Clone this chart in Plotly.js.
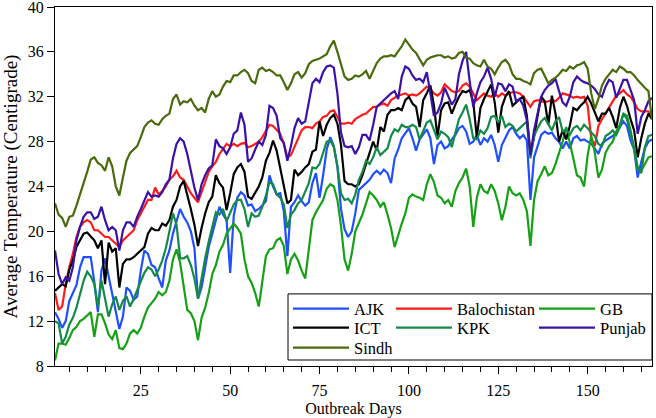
<!DOCTYPE html>
<html>
<head>
<meta charset="utf-8">
<script src="https://cdn.plot.ly/plotly-3.0.1.min.js"></script>
<style>html,body{margin:0;padding:0;background:#fff;}#chart{width:656px;height:418px;}</style>
</head>
<body>
<div id="chart"></div>
<script>
// Outbreak day index 1..168
const days = Array.from({length: 168}, (_, i) => i + 1);

const seriesNames = ["AJK", "Balochistan", "GB", "ICT", "KPK", "Punjab", "Sindh"];

const ajk = [12.8,12.2,11.4,12.0,13.8,14.5,15.2,16.8,17.7,17.7,17.7,15.5,12.8,16.5,17.6,16.0,14.5,13.0,11.3,12.4,15.0,14.7,13.9,14.2,16.5,18.3,18.0,17.0,
16.8,15.8,15.0,17.4,18.3,19.8,21.0,22.0,21.3,20.8,20.0,18.5,14.0,15.0,16.8,18.6,19.8,21.0,22.2,21.5,21.0,16.3,21.4,23.0,23.5,23.2,22.3,
22.4,21.8,22.0,22.3,22.7,25.0,24.0,23.3,23.4,21.8,17.8,22.2,22.6,23.2,22.7,22.3,22.6,24.3,25.2,23.0,25.0,27.3,28.4,27.6,25.8,22.0,20.2,19.5,
20.0,21.6,23.7,24.0,24.3,24.6,25.1,25.4,25.1,25.5,25.2,24.3,26.5,27.3,28.3,28.8,29.2,28.3,27.2,28.2,28.7,29.1,28.3,26.0,27.7,28.0,27.4,27.6,
28.2,28.6,29.2,29.4,28.9,27.8,28.0,28.6,27.7,28.3,28.0,28.6,27.7,26.2,27.7,28.4,29.0,29.3,28.7,28.3,28.6,28.1,22.8,26.6,27.7,28.6,28.9,28.7,
28.8,28.3,28.0,27.4,28.0,27.4,28.3,28.5,28.1,28.2,28.0,27.8,27.4,26.9,27.8,28.1,28.3,28.5,28.8,29.3,29.8,29.4,28.1,27.3,24.8,26.2,27.4,28.0,28.2];

const balochistan = [14.5,13.0,13.3,15.3,16.8,18.0,19.5,20.4,20.8,21.0,20.8,20.1,20.1,19.8,19.5,19.5,19.2,18.9,18.6,19.2,19.5,19.8,20.1,21.0,21.6,22.2,22.8,22.8,
23.9,23.3,23.6,24.0,24.6,24.9,25.4,24.8,24.6,24.0,23.4,23.0,22.6,23.5,24.5,25.3,25.8,26.2,26.9,27.4,27.8,27.6,27.8,27.6,27.8,27.9,27.5,
27.6,27.8,28.0,28.4,28.9,29.5,29.4,29.0,28.7,27.8,26.6,26.8,27.5,28.2,29.0,29.3,29.3,29.2,29.6,29.8,30.2,30.3,30.7,30.8,30.2,29.6,29.6,29.7,
29.6,30.0,30.2,30.4,30.5,30.8,31.1,31.1,31.3,31.4,31.2,31.7,31.9,32.1,32.2,32.3,32.1,32.2,32.1,32.3,32.6,32.9,32.7,32.3,32.1,32.4,33.1,32.8,
32.5,32.4,32.5,33.0,33.2,32.9,32.3,31.7,32.0,32.3,32.1,32.0,32.3,32.0,32.3,32.1,32.3,32.4,32.4,32.3,32.0,31.6,31.1,31.6,31.7,31.6,31.5,31.6,
31.7,31.6,31.9,32.3,32.2,32.1,31.9,32.0,31.9,32.0,31.2,28.3,27.6,29.4,30.0,30.5,31.0,31.6,32.1,32.3,32.6,32.2,32.0,31.5,30.9,30.7,30.7,30.7,30.3];

const gb = [8.5,10.0,10.0,9.9,10.5,11.2,11.5,12.0,12.2,12.5,12.8,10.6,12.6,12.6,11.8,10.8,10.4,11.2,9.6,9.5,10.0,10.9,11.2,10.9,11.4,12.4,13.2,13.6,
14.0,14.6,14.3,14.6,15.6,17.5,18.4,17.2,15.0,13.0,12.7,12.0,10.3,12.3,13.2,14.5,16.2,17.0,18.2,18.8,19.8,20.2,20.7,20.3,19.8,17.5,16.0,
15.4,14.5,13.3,15.5,17.8,18.4,18.5,19.2,19.4,18.7,16.2,17.5,18.0,17.4,16.5,15.8,18.5,21.0,21.7,22.3,22.8,23.8,24.2,24.0,22.8,20.5,17.5,16.5,
18.0,20.0,20.8,21.5,22.5,23.5,23.2,22.8,22.2,22.6,21.5,20.3,18.6,19.7,20.7,21.6,23.0,23.3,23.1,23.0,22.8,24.2,25.1,24.4,23.2,23.0,22.5,22.8,
22.2,23.6,24.3,24.8,25.6,24.0,20.4,23.0,24.2,23.6,23.4,24.2,23.6,22.5,21.0,22.2,24.0,23.4,23.2,23.4,22.8,21.8,18.7,22.8,24.5,25.1,25.8,25.0,
25.2,26.0,27.0,28.0,29.3,28.0,26.5,25.0,24.8,24.0,26.8,28.5,27.0,24.8,25.5,27.0,27.6,28.0,28.9,29.5,30.5,30.3,29.0,27.3,25.5,25.4,26.0,26.6,26.7];

const ict = [14.7,15.0,15.3,15.1,16.6,17.4,18.6,19.2,19.8,19.9,19.5,19.2,18.5,19.2,15.3,19.0,18.2,18.5,15.0,17.1,17.5,17.5,17.7,18.0,18.3,18.6,19.8,20.3,
20.1,20.1,20.7,20.5,21.0,22.2,22.8,24.0,24.5,23.3,22.0,20.6,18.7,20.3,21.6,22.6,23.1,25.0,24.3,23.9,21.9,23.4,25.1,25.7,26.0,25.3,23.1,
22.9,23.5,24.0,24.8,26.3,27.0,28.1,27.2,25.6,24.2,22.5,22.8,25.5,25.0,25.3,25.7,26.0,27.1,27.3,29.8,28.5,29.5,30.1,30.4,29.6,27.7,24.5,24.2,
24.2,24.0,24.2,25.0,26.0,26.8,28.0,27.2,29.3,28.9,30.4,30.8,30.8,31.0,30.8,31.7,32.0,31.4,31.1,29.3,31.7,32.3,33.0,31.2,28.4,30.8,31.4,31.5,
30.5,31.3,32.0,32.5,32.4,32.6,31.5,28.4,31.0,31.8,32.4,33.1,31.5,28.8,31.1,32.0,32.5,31.2,31.5,31.8,32.0,30.3,26.9,28.4,30.3,32.0,31.6,29.5,
32.1,30.5,28.0,29.0,28.2,29.4,31.0,30.8,31.2,31.5,32.0,31.4,30.6,29.8,30.5,30.5,31.0,30.2,29.2,31.0,32.0,31.2,30.0,29.0,26.6,28.3,29.6,30.5,30.0];

const kpk = [12.0,11.8,10.0,10.6,11.7,12.3,13.2,14.4,15.6,16.4,16.0,15.3,13.3,15.6,14.0,12.4,13.5,14.2,13.0,13.8,14.2,13.3,14.0,14.8,15.6,16.3,16.8,16.6,
16.0,16.6,17.4,18.5,20.0,21.6,20.6,17.6,17.6,17.8,17.0,15.8,14.0,16.0,17.6,19.1,20.3,21.7,21.5,22.0,20.9,21.6,22.4,22.8,22.8,22.0,20.4,
21.6,21.3,21.4,22.2,23.2,24.4,24.2,23.3,23.0,22.4,20.3,21.5,21.9,22.5,22.8,23.5,24.3,25.7,25.6,26.0,26.9,28.0,28.1,27.5,25.8,23.4,22.8,22.9,
22.5,23.3,24.6,25.3,26.3,26.0,26.6,27.5,26.8,27.1,27.4,28.5,29.1,28.9,29.5,29.3,29.3,29.5,29.3,28.2,29.0,29.7,29.9,29.0,28.2,28.9,28.7,28.4,
27.5,28.8,30.0,30.6,31.3,30.0,28.3,28.2,29.0,28.7,29.2,30.2,30.3,29.7,30.3,29.3,29.6,29.4,28.9,29.2,29.5,29.8,26.5,28.5,29.2,29.8,30.1,29.6,
29.0,29.8,30.2,28.9,29.1,28.6,29.2,29.4,29.0,29.5,29.2,28.8,28.5,27.8,27.6,28.5,28.7,29.0,28.6,29.3,30.5,30.0,28.7,27.5,25.7,25.2,27.5,28.5,28.6];

const punjab = [18.3,16.2,15.3,15.9,15.6,16.8,19.2,20.4,21.3,21.7,21.7,21.1,21.3,22.2,21.0,20.1,20.4,20.1,18.3,20.1,20.8,20.8,20.4,21.3,22.0,22.8,23.5,23.1,
23.2,23.1,23.5,24.2,24.6,26.5,27.8,28.3,28.0,26.9,25.4,23.9,22.8,24.2,25.0,25.6,25.9,28.2,27.6,27.4,26.9,27.5,28.7,29.0,30.6,29.5,26.2,
26.5,27.3,28.0,27.7,28.6,31.2,31.0,30.3,28.3,27.9,26.3,27.6,29.2,30.1,29.6,29.8,31.5,33.2,33.6,33.3,34.2,34.7,34.8,34.6,32.3,28.8,27.6,27.5,
27.6,26.9,27.5,28.6,28.6,28.1,29.5,31.1,31.4,31.7,32.0,32.3,32.5,31.8,33.8,34.7,34.5,33.9,33.5,33.6,33.3,34.2,32.3,30.3,30.6,31.4,32.8,32.0,
31.3,31.8,34.0,35.2,36.0,33.4,31.1,32.3,33.3,33.8,34.6,33.6,32.0,33.2,33.1,32.5,33.1,32.9,31.6,31.8,31.2,29.9,26.8,29.0,30.6,32.0,32.6,33.0,
33.2,33.6,32.5,31.5,31.2,32.0,33.3,33.8,33.5,33.3,33.2,33.0,32.7,32.2,32.0,32.9,33.5,33.3,31.9,32.8,33.5,33.5,32.6,31.7,28.7,30.2,30.8,31.6,31.9];

const sindh = [22.5,21.5,21.2,20.4,21.3,21.4,22.3,23.4,24.3,25.3,26.4,26.6,26.1,25.9,25.4,26.6,25.8,24.0,23.2,24.8,26.3,27.0,27.3,27.6,28.4,29.3,29.7,29.9,
29.6,29.5,30.0,30.3,30.5,31.8,32.2,31.3,31.6,31.5,31.8,31.2,30.8,31.0,30.6,31.8,32.5,32.0,32.2,32.9,33.4,33.3,33.9,33.9,34.2,34.4,34.1,
33.4,33.2,34.4,34.6,34.3,34.4,34.2,33.9,33.9,33.3,32.6,33.2,34.0,34.2,33.7,34.1,34.9,35.2,35.3,35.4,35.6,35.8,36.5,37.0,36.0,34.9,33.8,33.5,
33.6,33.9,33.8,34.0,34.3,33.6,34.3,35.0,35.4,35.6,35.6,35.7,35.6,36.0,36.5,37.1,36.6,36.2,35.9,35.3,34.8,35.3,35.5,35.6,35.7,35.7,35.5,35.6,
35.4,35.5,35.9,36.0,35.5,35.4,35.0,34.8,34.7,35.3,34.7,34.5,34.0,34.6,35.1,35.3,34.9,34.0,33.6,33.6,33.4,33.3,33.1,34.1,34.4,34.5,33.8,33.2,
33.5,33.7,34.0,34.4,34.3,34.7,34.5,34.8,34.9,35.1,34.5,32.3,30.9,31.8,33.0,33.6,34.0,34.4,34.2,34.7,34.5,34.2,34.2,33.9,33.5,33.1,32.8,32.5,30.0];

const xTicks = [25, 50, 75, 100, 125, 150];
const yTicks = [8, 12, 16, 20, 24, 28, 32, 36, 40];

const values = [ajk, balochistan, gb, ict, kpk, punjab, sindh];
const colors = ["#1f4fff", "#ff1a1a", "#16a016", "#000000", "#148a48", "#3a12a8", "#4a6b0c"];
const legendIds = ["legend", "legend4", "legend6", "legend2", "legend5", "legend7", "legend3"];

const traces = seriesNames.map((name, i) => ({
  type: "scatter",
  mode: "lines",
  name: name,
  x: days,
  y: values[i],
  line: {color: colors[i], width: 2.2},
  legend: legendIds[i]
}));

const serif = "'Liberation Serif', 'Times New Roman', serif";
const legendBase = {
  orientation: "v", bgcolor: "rgba(0,0,0,0)", borderwidth: 0,
  font: {family: serif, size: 16.5, color: "#000"},
  itemwidth: 56, yanchor: "middle", xanchor: "left"
};
const colX = [0.3903, 0.5628, 0.8023];
const rowY = [0.159, 0.106, 0.0502];

const layout = {
  width: 656, height: 418,
  margin: {l: 55, r: 4, t: 7, b: 52},
  paper_bgcolor: "#fff", plot_bgcolor: "#fff",
  font: {family: serif, size: 16, color: "#000"},
  showlegend: true,
  xaxis: {
    range: [1, 168], tickvals: xTicks, ticks: "outside", ticklen: 7, tickwidth: 1,
    tickcolor: "#000", showline: true, linecolor: "#000", linewidth: 1, mirror: true,
    showgrid: false, zeroline: false, ticklabelstandoff: 3,
    minor: {dtick: 5, tick0: 0, ticks: "outside", ticklen: 5, tickcolor: "#000"},
    title: {text: "Outbreak Days", font: {family: serif, size: 16}, standoff: 4},
    tickfont: {family: serif, size: 16}
  },
  yaxis: {
    range: [8, 40], tickvals: yTicks, ticks: "outside", ticklen: 7, tickwidth: 1,
    tickcolor: "#000", showline: true, linecolor: "#000", linewidth: 1, mirror: true,
    showgrid: false, zeroline: false, ticklabeloverflow: "allow",
    title: {text: "Average Temperature (Centigrade)", font: {family: serif, size: 19}, standoff: 6},
    tickfont: {family: serif, size: 16}
  },
  legend:  Object.assign({}, legendBase, {x: colX[0], y: rowY[0]}),
  legend2: Object.assign({}, legendBase, {x: colX[0], y: rowY[1]}),
  legend3: Object.assign({}, legendBase, {x: colX[0], y: rowY[2]}),
  legend4: Object.assign({}, legendBase, {x: colX[1], y: rowY[0]}),
  legend5: Object.assign({}, legendBase, {x: colX[1], y: rowY[1]}),
  legend6: Object.assign({}, legendBase, {x: colX[2], y: rowY[0]}),
  legend7: Object.assign({}, legendBase, {x: colX[2], y: rowY[1]}),
  shapes: [{
    type: "rect", xref: "paper", yref: "paper",
    x0: 0.3903, x1: 1.0, y0: 0.0167, y1: 0.2008,
    line: {color: "#000", width: 1}, fillcolor: "#fff", layer: "above"
  }]
};

Plotly.newPlot("chart", traces, layout, {displayModeBar: false, staticPlot: true});
</script>
</body>
</html>
